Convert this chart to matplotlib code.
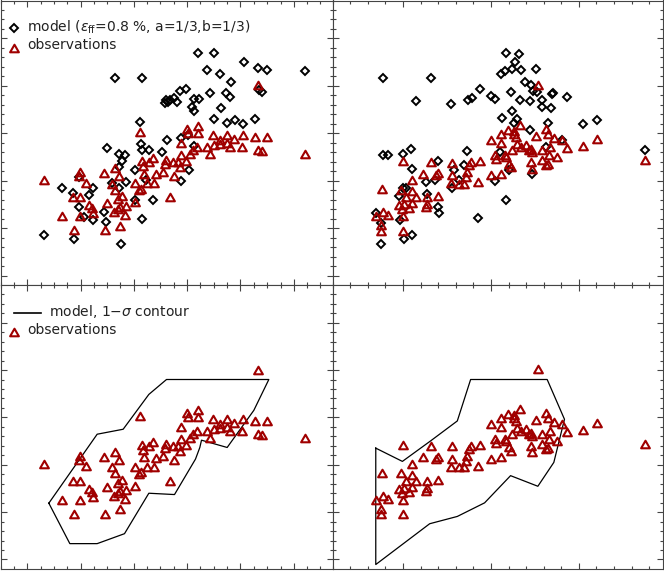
import matplotlib
matplotlib.use("Agg")
import matplotlib.pyplot as plt
from matplotlib.ticker import MultipleLocator
from matplotlib.path import Path
import numpy as np

# ---------------- data (arbitrary units; no axis labels in the original) ----------------
# top-left: model points
model_x1 = [3.45, 4.25, 5.92, 6.40, 7.30, 6.20, 6.60, 7.72, 8.00, 9.15, 6.92, 5.58, 5.38,
            4.97, 5.03, 5.10, 5.20, 5.30, 4.93, 6.28, 6.76, 6.88, 5.82, 5.95, 5.74, 5.82,
            6.63, 7.75, 7.85, 6.40, 7.03, 6.80, 7.27, 7.64, 4.18, 5.00, 5.40, 5.62, 3.20,
            3.55, 3.73, 4.21, 4.25, 4.45, 4.85, 3.65, 3.57, 4.05, 4.37, 3.76, 3.35, 3.55,
            2.36, 1.85, 2.17, 2.78, 2.65, 2.37, 2.50, 2.78, 3.10, 3.16, 4.05, 4.58, 4.25,
            5.65, 5.43, 1.31, 2.21, 3.62, 5.80]
model_y1 = [6.22, 6.21, 6.97, 6.97, 6.71, 6.47, 6.33, 6.52, 6.47, 6.44, 6.09, 5.88, 5.82,
            5.55, 5.50, 5.57, 5.62, 5.50, 5.47, 5.76, 5.77, 5.64, 5.59, 5.58, 5.35, 5.22,
            5.32, 5.87, 5.81, 5.00, 4.95, 4.87, 4.85, 4.99, 4.90, 4.35, 4.42, 4.50, 4.11,
            3.95, 3.90, 4.23, 4.07, 4.05, 4.00, 3.73, 3.55, 3.45, 3.15, 3.10, 3.07, 2.93,
            3.25, 2.92, 2.75, 2.93, 2.69, 2.33, 2.05, 1.95, 2.18, 1.90, 2.55, 2.55, 1.97,
            3.45, 3.13, 1.50, 1.37, 1.22, 4.18]

# left column: observations
obs_x1 = [1.31, 7.73, 9.15, 4.18, 5.60, 5.63, 5.92, 5.92, 5.40, 6.38, 6.80, 6.60, 7.00,
          7.28, 7.65, 8.00, 7.72, 7.85, 7.25, 6.90, 6.80, 6.60, 6.40, 6.20, 6.28, 5.90,
          5.77, 5.70, 5.57, 5.40, 5.33, 5.38, 5.18, 4.97, 4.95, 4.88, 5.20, 4.58, 4.45,
          4.25, 4.28, 4.30, 4.65, 4.40, 4.60, 4.05, 4.15, 4.22, 4.05, 5.10, 2.38, 2.36,
          2.58, 3.10, 3.45, 3.55, 3.35, 3.45, 3.65, 3.52, 3.20, 3.78, 3.58, 3.52, 3.40,
          3.75, 2.18, 2.38, 2.65, 2.75, 2.77, 1.85, 2.38, 2.20, 3.15, 3.60]
obs_y1 = [3.15, 6.00, 3.93, 4.60, 4.70, 4.57, 4.78, 4.57, 4.27, 4.52, 4.52, 4.35, 4.40,
          4.50, 4.45, 4.45, 4.05, 4.03, 4.15, 4.15, 4.27, 4.25, 4.20, 4.15, 3.93, 4.15,
          4.05, 3.95, 3.72, 3.90, 3.70, 3.55, 3.70, 3.75, 3.63, 3.40, 3.27, 3.82, 3.70,
          3.73, 3.58, 3.35, 3.33, 3.07, 3.07, 3.07, 2.85, 2.90, 2.48, 2.63, 3.40, 3.27,
          3.08, 3.37, 3.52, 3.27, 3.05, 2.87, 2.67, 2.57, 2.47, 2.37, 2.35, 2.27, 2.18,
          2.10, 2.65, 2.65, 2.40, 2.30, 2.15, 2.08, 2.07, 1.65, 1.65, 1.78]

# top-right: model points
model_x2 = [1.52, 2.95, 2.52, 3.57, 4.08, 4.18, 4.43, 4.75, 4.88, 5.22, 5.60, 5.48, 5.40,
            5.18, 5.05, 5.65, 6.12, 5.78, 5.95, 6.02, 6.15, 5.37, 5.62, 5.93, 6.30, 6.28,
            6.55, 6.58, 6.62, 7.05, 5.38, 5.08, 5.55, 5.45, 5.93, 6.48, 7.52, 7.95, 6.90,
            9.40, 1.52, 1.68, 2.12, 2.37, 2.40, 2.12, 2.20, 2.00, 2.85, 2.82, 3.08, 3.18,
            4.05, 3.95, 3.65, 3.58, 3.80, 4.88, 5.20, 4.37, 3.18, 3.20, 1.30, 1.45, 2.02,
            2.38, 2.15, 1.47, 5.03, 5.98, 5.30, 6.40]
model_y2 = [6.22, 6.21, 5.53, 5.45, 5.55, 5.63, 5.88, 5.68, 5.58, 6.97, 6.95, 6.71, 6.50,
            6.43, 6.33, 6.47, 6.48, 6.10, 6.00, 5.83, 5.80, 5.81, 5.57, 5.52, 5.55, 5.35,
            5.33, 5.75, 5.76, 5.65, 5.22, 5.02, 4.99, 4.87, 4.65, 4.87, 4.85, 4.95, 4.35,
            4.05, 3.90, 3.90, 3.95, 4.10, 3.50, 2.93, 2.92, 2.67, 2.73, 3.10, 3.15, 3.73,
            4.03, 3.60, 3.45, 2.93, 3.15, 3.13, 2.55, 2.00, 2.33, 2.15, 2.15, 1.87, 1.95,
            1.50, 1.37, 1.22, 4.00, 3.35, 3.45, 4.15]

# right column: observations
obs_x2 = [6.18, 9.40, 7.95, 7.52, 7.05, 6.90, 6.65, 6.75, 6.40, 6.48, 6.12, 5.62, 5.28,
          5.45, 5.05, 5.45, 5.50, 5.55, 5.40, 4.76, 5.05, 5.65, 5.80, 5.95, 6.00, 5.90,
          6.28, 6.52, 6.50, 6.28, 6.48, 6.40, 5.95, 5.98, 5.35, 5.30, 5.18, 4.88, 4.90,
          5.20, 5.05, 4.75, 4.42, 4.15, 4.10, 4.05, 4.00, 3.95, 3.80, 3.60, 3.58, 3.57,
          4.37, 3.18, 3.10, 2.95, 2.73, 2.38, 2.12, 2.40, 2.05, 2.20, 2.52, 2.40, 2.15,
          2.00, 2.10, 2.12, 2.30, 2.85, 2.85, 2.82, 3.18, 1.50, 1.52, 1.68, 1.30, 1.45,
          1.47, 2.13]
obs_y2 = [6.02, 3.75, 4.39, 4.17, 4.13, 4.37, 4.43, 3.85, 4.70, 4.53, 4.47, 4.80, 4.65,
          4.62, 4.53, 4.55, 4.45, 4.25, 4.07, 4.35, 4.27, 4.15, 4.20, 4.10, 4.00, 4.05,
          4.07, 4.15, 3.90, 3.75, 3.63, 3.60, 3.70, 3.50, 3.55, 3.65, 3.90, 3.90, 3.80,
          3.85, 3.35, 3.30, 3.73, 3.70, 3.60, 3.40, 3.25, 3.05, 3.05, 3.30, 3.68, 3.07,
          3.10, 3.37, 3.30, 3.70, 3.35, 3.15, 3.73, 2.83, 2.87, 2.65, 2.65, 2.45, 2.43,
          2.40, 2.27, 2.07, 2.30, 2.63, 2.43, 2.35, 2.67, 2.89, 2.20, 2.10, 2.07, 1.80,
          1.63, 1.63]

# model 1-sigma contours
contour_x1 = [1.45, 2.90, 3.68, 4.45, 4.98, 8.05, 7.60, 6.80, 6.03, 5.98, 5.85, 5.22,
              4.45, 3.72, 2.90, 2.08, 1.45]
contour_y1 = [1.97, 4.05, 4.20, 5.25, 5.70, 5.70, 4.77, 3.65, 3.87, 3.65, 3.30, 2.23,
              2.27, 1.05, 0.75, 0.75, 1.97]
contour_x2 = [1.30, 2.10, 2.95, 3.75, 4.15, 6.45, 6.97, 6.65, 6.17, 5.35, 4.57, 3.75,
              2.92, 1.30, 1.30]
contour_y2 = [3.63, 3.23, 3.85, 4.45, 5.70, 5.70, 4.50, 3.20, 2.48, 2.80, 1.98, 1.57,
              1.35, 0.12, 3.63]

label_model = r'model ($\epsilon_{\rm ff}$=0.8 %, a=1/3,b=1/3)'
label_contour = r'model, 1$-\sigma$ contour'
label_obs = 'observations'

# ---------------- style ----------------
plt.rcParams['font.family'] = ['DejaVu Sans']
plt.rcParams['mathtext.fontset'] = 'dejavusans'
RED = '#a00000'
TXT = '#222222'
tri = Path([(0, 0.433), (-0.5, -0.433), (0.5, -0.433), (0, 0.433)],
           [Path.MOVETO, Path.LINETO, Path.LINETO, Path.CLOSEPOLY])
obs_kw = dict(ls='none', marker=tri, ms=6.3, mfc='none', mec=RED, mew=1.5)
mod_kw = dict(ls='none', marker='D', ms=4.1, mfc='none', mec='black', mew=1.4)

fig = plt.figure(figsize=(6.64, 5.71), dpi=100)
W, H = 664.0, 571.0
lx0, lw = 0.5 / W, 332.0 / W
rx0, rw = 332.5 / W, 330.5 / W
ty0, th = 1 - 285.0 / H, 284.5 / H
by0, bh = 1 - 568.5 / H, 283.5 / H

ax_tl = fig.add_axes([lx0, ty0, lw, th])
ax_tr = fig.add_axes([rx0, ty0, rw, th])
ax_bl = fig.add_axes([lx0, by0, lw, bh])
ax_br = fig.add_axes([rx0, by0, rw, bh])

for ax, left in ((ax_tl, True), (ax_bl, True), (ax_tr, False), (ax_br, False)):
    if left:
        ax.set_xlim(0, 9.96)
        ax.xaxis.set_major_locator(MultipleLocator(1.6, offset=0.8))
        ax.xaxis.set_minor_locator(MultipleLocator(0.4))
    else:
        ax.set_xlim(0, 9.93)
        ax.xaxis.set_major_locator(MultipleLocator(2.64, offset=2.12))
        ax.xaxis.set_minor_locator(MultipleLocator(0.528, offset=2.12))
    ax.set_ylim(0, 8.55)
    ax.yaxis.set_major_locator(MultipleLocator(1.428, offset=0.273))
    ax.yaxis.set_minor_locator(MultipleLocator(0.2856, offset=0.273))
    ax.tick_params(which='both', direction='in', top=True, right=True,
                   labelbottom=False, labelleft=False, color='#444444', width=0.8)
    ax.tick_params(which='major', length=4.2)
    ax.tick_params(which='minor', length=2.2)
    for s in ax.spines.values():
        s.set_color('#444444')
        s.set_linewidth(0.8)

# top-left
ax_tl.plot(model_x1, model_y1, **mod_kw)
ax_tl.plot(obs_x1, obs_y1, **obs_kw)
# top-right
ax_tr.plot(model_x2, model_y2, **mod_kw)
ax_tr.plot(obs_x2, obs_y2, **obs_kw)
# bottom-left
ax_bl.plot(contour_x1, contour_y1, color='black', lw=0.9)
ax_bl.plot(obs_x1, obs_y1, **obs_kw)
# bottom-right
ax_br.plot(contour_x2, contour_y2, color='black', lw=0.9)
ax_br.plot(obs_x2, obs_y2, **obs_kw)

# legends (drawn in axes coordinates, IDL style)
fs = 10
ax_tl.plot([0.040], [0.902], transform=ax_tl.transAxes, **mod_kw)
ax_tl.text(0.081, 0.905, label_model, transform=ax_tl.transAxes, fontsize=fs,
           color=TXT, va='center', ha='left')
ax_tl.plot([0.040], [0.833], transform=ax_tl.transAxes, **obs_kw)
ax_tl.text(0.081, 0.843, label_obs, transform=ax_tl.transAxes, fontsize=fs,
           color=TXT, va='center', ha='left')

ax_bl.plot([0.040, 0.121], [0.902, 0.902], transform=ax_bl.transAxes, color='black', lw=1.2)
ax_bl.text(0.146, 0.905, label_contour, transform=ax_bl.transAxes, fontsize=fs,
           color=TXT, va='center', ha='left')
ax_bl.plot([0.040], [0.833], transform=ax_bl.transAxes, **obs_kw)
ax_bl.text(0.081, 0.843, label_obs, transform=ax_bl.transAxes, fontsize=fs,
           color=TXT, va='center', ha='left')

fig.savefig('out.png', dpi=100)
